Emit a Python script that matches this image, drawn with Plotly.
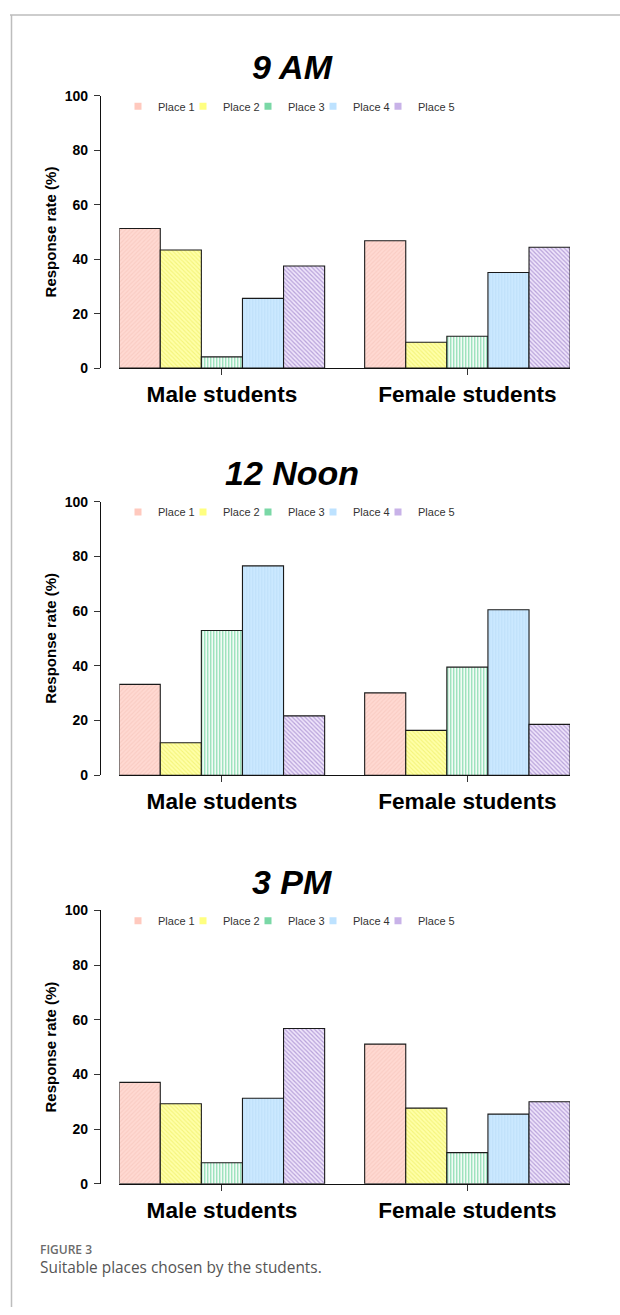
import plotly.graph_objects as go

# ---------------- data ----------------
categories = ["Male students", "Female students"]
places = ["Place 1", "Place 2", "Place 3", "Place 4", "Place 5"]
panel_titles = ["9 AM", "12 Noon", "3 PM"]

am9_male = [51.3, 43.4, 4.1, 25.6, 37.5]
am9_female = [46.8, 9.5, 11.7, 35.1, 44.4]
noon_male = [33.2, 11.9, 52.9, 76.5, 21.7]
noon_female = [30.1, 16.4, 39.5, 60.5, 18.6]
pm3_male = [37.1, 29.3, 7.7, 31.3, 56.8]
pm3_female = [51.1, 27.7, 11.4, 25.5, 30.0]

y_ticks = [0, 20, 40, 60, 80, 100]
y_title = "Response rate (%)"
caption_label = "FIGURE 3"
caption_text = "Suitable places chosen by the students."

# ---------------- styles ----------------
W, H = 620, 1315
legend_colors = ["#FFC9BE", "#FFFF80", "#7AD8A6", "#BDE2FF", "#C8B2E8"]
bar_bg = ["#FFD9D2", "#FFFFA8", "#FFFFFF", "#CBE8FF", "#EFE5FB"]
bar_fg = ["#F9CCC3", "#F4F47A", "#7AD8A6", "#BCDFF8", "#B8A2DA"]
bar_shape = ["/", "\\", "|", "|", "\\"]
bar_size = [3, 3, 3, 3, 3]
bar_solid = [0.35, 0.35, 0.4, 0.3, 0.4]

FONT = "Liberation Sans, Arial, sans-serif"


def px_x(p):
    return p / W


def px_y(p):
    return 1 - p / H


panels = [
    (am9_male, am9_female),
    (noon_male, noon_female),
    (pm3_male, pm3_female),
]
# pixel positions of y=100 and y=0 for each panel
panel_px = [(89.0, 364.5), (499.7, 776.7), (913.5, 1190.3)]

fig = go.Figure()
layout_upd = {}
annotations = []

for i, ((male, female), (ptop, pbot)) in enumerate(zip(panels, panel_px)):
    n = i + 1
    xa = "x" if n == 1 else f"x{n}"
    ya = "y" if n == 1 else f"y{n}"
    leg = "legend" if n == 1 else f"legend{n}"
    for k, place in enumerate(places):
        fig.add_trace(go.Bar(
            x=categories,
            y=[male[k], female[k]],
            name=place,
            xaxis=xa, yaxis=ya,
            showlegend=False,
            marker=dict(
                color=bar_bg[k],
                line=dict(color="#1a1a1a", width=1.1),
                pattern=dict(shape=bar_shape[k], fgcolor=bar_fg[k],
                             bgcolor=bar_bg[k], size=bar_size[k],
                             solidity=bar_solid[k], fillmode="replace"),
            ),
        ))
    for k, place in enumerate(places):
        fig.add_trace(go.Scatter(
            x=[None], y=[None], mode="markers", name=place,
            xaxis=xa, yaxis=ya, legend=leg, showlegend=True,
            marker=dict(symbol="square", size=7, color=legend_colors[k]),
        ))
    # invisible spacer entry so the last legend label is not clipped
    fig.add_trace(go.Scatter(
        x=[None], y=[None], mode="markers", name=" ",
        xaxis=xa, yaxis=ya, legend=leg, showlegend=True,
        marker=dict(symbol="square", size=1, color="rgba(0,0,0,0)"),
    ))

    xkey = "xaxis" if n == 1 else f"xaxis{n}"
    ykey = "yaxis" if n == 1 else f"yaxis{n}"
    layout_upd[xkey] = dict(
        domain=[px_x(119.3), px_x(570)],
        anchor=ya,
        range=[-0.418, 1.418],
        showline=True, linecolor="#111", linewidth=1.2,
        ticks="outside", ticklen=6, tickcolor="#333", tickwidth=1,
        tickfont=dict(family=FONT, size=22.6, color="#000", weight="bold"),
        showgrid=False, zeroline=False, fixedrange=True,
    )
    layout_upd[ykey] = dict(
        domain=[px_y(pbot), px_y(ptop)],
        anchor="free", position=px_x(100),
        range=[0, 100],
        tickvals=y_ticks,
        showline=True, linecolor="#111", linewidth=1.2,
        ticks="outside", ticklen=6, tickcolor="#333", tickwidth=1,
        ticklabelstandoff=3,
        tickfont=dict(family=FONT, size=14, color="#000", weight="bold"),
        title=dict(text=y_title, standoff=3,
                   font=dict(family=FONT, size=15, color="#000", weight="bold")),
        showgrid=False, zeroline=False, fixedrange=True,
    )
    layout_upd[leg] = dict(
        orientation="h", x=px_x(118), y=px_y(ptop + 10.5),
        xanchor="left", yanchor="middle",
        font=dict(family=FONT, size=11, color="#333"),
        bgcolor="rgba(0,0,0,0)", itemwidth=30, entrywidth=20,
        entrywidthmode="pixels", tracegroupgap=0,
    )
    annotations.append(dict(
        text=panel_titles[i], x=px_x(292), y=px_y(ptop - 29),
        xref="paper", yref="paper", xanchor="center", yanchor="middle",
        showarrow=False,
        font=dict(family=FONT, size=34, color="#000", weight="bold", style="italic"),
    ))

annotations.append(dict(
    text=caption_label, x=px_x(38), y=px_y(1257), xref="paper", yref="paper",
    xanchor="left", yanchor="middle", showarrow=False,
    font=dict(family="Open Sans, sans-serif", size=12, color="#6b6b6b", weight=600),
))
annotations.append(dict(
    text=caption_text, x=px_x(38), y=px_y(1275), xref="paper", yref="paper",
    xanchor="left", yanchor="middle", showarrow=False,
    font=dict(family="Open Sans, sans-serif", size=15.4, color="#555"),
))

shapes = [
    dict(type="line", xref="paper", yref="paper", x0=px_x(10), x1=1,
         y0=px_y(7), y1=px_y(7), line=dict(color="#BDBDBD", width=1.5)),
    dict(type="line", xref="paper", yref="paper", x0=px_x(11.5), x1=px_x(11.5),
         y0=px_y(7), y1=0, line=dict(color="#BDBDBD", width=1.5)),
]

fig.update_layout(
    width=W, height=H,
    margin=dict(l=0, r=0, t=0, b=0),
    paper_bgcolor="white", plot_bgcolor="white",
    barmode="group", bargap=0.163, bargroupgap=0,
    font=dict(family=FONT),
    annotations=annotations, shapes=shapes,
    **layout_upd,
)

fig.write_html(
    "out.html",
    config={"displayModeBar": False},
    post_script="document.body.style.margin='0';"
                "document.documentElement.style.overflow='hidden';"
                "document.body.style.overflow='hidden';",
)
